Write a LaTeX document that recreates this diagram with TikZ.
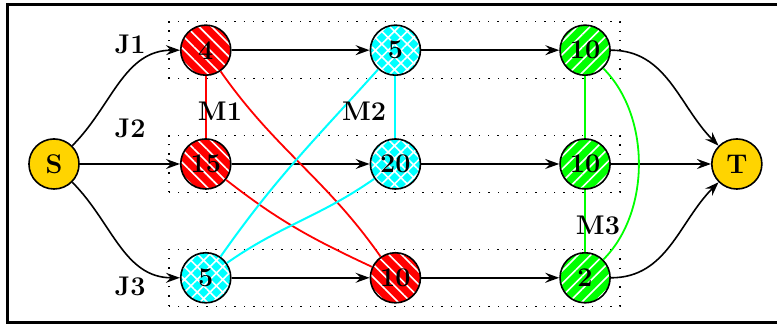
\documentclass[tikz,border=0pt]{standalone}
\usepackage{tikz}
\usetikzlibrary{arrows.meta, patterns.meta}
\definecolor{stgold}{RGB}{255,212,0}
\definecolor{mred}{RGB}{255,0,0}
\definecolor{mcyan}{RGB}{0,255,255}
\definecolor{mgreen}{RGB}{0,255,0}

\begin{document}
\begin{tikzpicture}[
        >={Stealth[length=7pt, width=5pt, inset=2.5pt]},
        every node/.style={font=\fontsize{13.5}{16}\selectfont\bfseries},
        op/.style={circle, draw, thick, minimum size=0.88cm, inner sep=0pt},
        terminal/.style={op, fill=stgold},
        onm1/.style={op, preaction={fill=mred}, pattern={Lines[angle=-45, distance=4.5pt, line width=0.8pt]}, pattern color=white},
        onm2/.style={op, preaction={fill=mcyan}, pattern={Hatch[angle=45, distance=4.5pt, line width=0.8pt]}, pattern color=white},
        onm3/.style={op, preaction={fill=mgreen}, pattern={Lines[angle=45, distance=4.5pt, line width=0.8pt]}, pattern color=white},
        flow/.style={->, thick},
        rowbox/.style={line width=0.7pt, loosely dotted},
        m1line/.style={mred, line width=0.9pt},
        m2line/.style={mcyan, line width=1pt},
        m3line/.style={mgreen, line width=0.9pt}
    ]
        \useasboundingbox (-0.949, -2.812) rectangle (12.706, 2.882);
        \draw[line width=1.5pt] (-0.817, 2.803) rectangle (12.74, -2.785);
        % one dotted box per job
        \draw[rowbox] (2.02, 1.5) rectangle (9.95, 2.5);
        \draw[rowbox] (2.02, -0.5) rectangle (9.95, 0.5);
        \draw[rowbox] (2.02, -2.5) rectangle (9.95, -1.5);
        \node[terminal] (S) at (0, 0) {S};
        \node[onm1] (J1 M1) at (2.667, 2) {4};
        \node[onm2] (J1 M2) at (6, 2) {5};
        \node[onm3] (J1 M3) at (9.333, 2) {10};
        \node[onm1] (J2 M1) at (2.667, 0) {15};
        \node[onm2] (J2 M2) at (6, 0) {20};
        \node[onm3] (J2 M3) at (9.333, 0) {10};
        \node[onm2] (J3 M2) at (2.667, -2) {5};
        \node[onm1] (J3 M1) at (6, -2) {10};
        \node[onm3] (J3 M3) at (9.333, -2) {2};
        \node[terminal] (T) at (12, 0) {T};
        % job order
        \draw[flow] (S) to[out=45, in=180] (J1 M1);
        \draw[flow] (S) -- (J2 M1);
        \draw[flow] (S) to[out=-45, in=180] (J3 M2);
        \draw[flow] (J1 M1) -- (J1 M2);
        \draw[flow] (J1 M2) -- (J1 M3);
        \draw[flow] (J2 M1) -- (J2 M2);
        \draw[flow] (J2 M2) -- (J2 M3);
        \draw[flow] (J3 M2) -- (J3 M1);
        \draw[flow] (J3 M1) -- (J3 M3);
        \draw[flow] (J1 M3) to[out=0, in=135] (T);
        \draw[flow] (J2 M3) -- (T);
        \draw[flow] (J3 M3) to[out=0, in=-135] (T);
        % machine cliques
        \draw[m1line] (J1 M1) -- (J2 M1);
        \draw[m1line] (J1 M1) to[out=-55, in=125] (J3 M1);
        \draw[m1line] (J2 M1) to[out=-38, in=155] (J3 M1);
        \draw[m2line] (J1 M2) -- (J2 M2);
        \draw[m2line] (J1 M2) to[out=-132, in=55] (J3 M2);
        \draw[m2line] (J2 M2) to[out=-145, in=35] (J3 M2);
        \draw[m3line] (J1 M3) -- (J2 M3);
        \draw[m3line] (J2 M3) -- (J3 M3);
        \draw[m3line] (J1 M3) to[out=-45, in=45, looseness=0.9] (J3 M3);
        \node (J1) at (1.336, 2.109) {J1};
        \node (J2) at (1.336, 0.633) {J2};
        \node (J3) at (1.336, -2.144) {J3};
        \node (M1) at (2.917, 0.931) {M1};
        \node (M2) at (5.448, 0.931) {M2};
        \node (M3) at (9.56, -1.072) {M3};
    \end{tikzpicture}
\end{document}
